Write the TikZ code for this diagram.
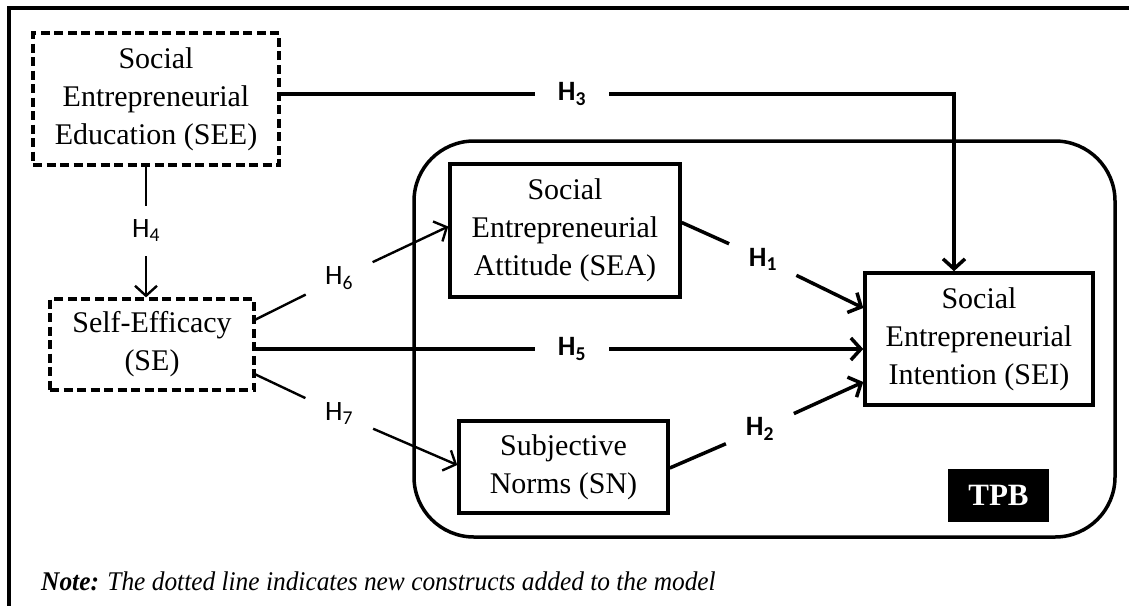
\documentclass[tikz,border=0pt]{standalone}
\usepackage{fontspec}
\setmainfont{Liberation Serif}
\newfontfamily\hypfont{Carlito}
\usepackage{tikz}
\usetikzlibrary{positioning}
\usetikzlibrary{arrows.meta}

\begin{document}
\begin{tikzpicture}[x=1pt,y=-1pt,>={Straight Barb[length=10pt,width=22pt]}]

          \tikzstyle{newNode} = [draw, line width=3.2pt, dash pattern=on 9pt off 4.5pt, align=center, inner sep=0pt, font=\fontsize{30}{38}\selectfont];
          \tikzstyle{tpbNode} = [draw, line width=3.5pt, align=center, inner sep=0pt, font=\fontsize{30}{38}\selectfont];
          \tikzstyle{hypLabel} = [circle, inner sep=0pt, minimum size=74pt, font=\hypfont\fontsize{28}{28}\selectfont];
          \tikzstyle{hypLabelBold} = [hypLabel, font=\hypfont\bfseries\fontsize{28}{28}\selectfont];

          \tikzstyle{thinEdge} = [line width=2.4pt];
          \tikzstyle{boldEdge} = [line width=3.5pt];

          \useasboundingbox (0,0) rectangle (1129,605);
          \clip (0,0) rectangle (1129,605);
          \draw[line width=4.5pt] (9,8) rectangle (1160,640);

          % theory of planned behaviour frame
          \node[draw, line width=3.5pt, rounded corners=60pt, minimum width=701pt, minimum height=396pt] (tpbFrame) at (764.5,339) {};
          \node[fill=black, text=white, inner sep=0pt, minimum width=101pt, minimum height=53pt, font=\bfseries\fontsize{31}{31}\selectfont] (tpb) at (998.5,495.5) {TPB};

          \node[newNode, minimum width=246pt, minimum height=132pt] (see) at (156,99) {Social\\Entrepreneurial\\Education (SEE)};
          \node[newNode, minimum width=204pt, minimum height=91pt] (se) at (152,344.5) {Self-Efficacy\\(SE)};
          \node[tpbNode, minimum width=230pt, minimum height=133pt] (sea) at (565,230.5) {Social\\Entrepreneurial\\Attitude (SEA)};
          \node[tpbNode, minimum width=209pt, minimum height=92pt] (sn) at (563.5,467) {Subjective\\Norms (SN)};
          \node[tpbNode, minimum width=228pt, minimum height=132pt] (sei) at (979,339) {Social\\Entrepreneurial\\Intention (SEI)};

          \node[hypLabelBold] (h1) at (763,259) {H\textsubscript{1}};
          \node[hypLabelBold] (h2) at (760,429) {H\textsubscript{2}};
          \node[hypLabelBold] (h3) at (572,94) {H\textsubscript{3}};
          \node[hypLabel, minimum size=50pt] (h4) at (146,231) {H\textsubscript{4}};
          \node[hypLabelBold] (h5) at (572,349) {H\textsubscript{5}};
          \node[hypLabel] (h6) at (339,278) {H\textsubscript{6}};
          \node[hypLabel] (h7) at (339,414) {H\textsubscript{7}};
          \coordinate (h3Corner) at (954,94);

          \draw[boldEdge] (h3 -| see.east) -- (h3);
          \draw[boldEdge, ->] (h3) -- (h3Corner) -- (h3Corner |- sei.north);
          \draw[thinEdge] (h4 |- see.south) -- (h4);
          \draw[thinEdge, ->] (h4) -- (h4 |- se.north);
          \draw[thinEdge] ([yshift=25pt]se.east) -- (h6);
          \draw[thinEdge, ->] (h6) -- ([yshift=4pt]sea.west);
          \draw[thinEdge] ([yshift=-30pt]se.east) -- (h7);
          \draw[thinEdge, ->] (h7) -- ([yshift=2pt]sn.west);
          \draw[boldEdge] ([yshift=-4.5pt]se.east) -- (h5);
          \draw[boldEdge, ->] (h5) -- (h5 -| sei.west);
          \draw[boldEdge] ([yshift=8pt]sea.east) -- (h1);
          \draw[boldEdge, ->] (h1) -- ([yshift=31pt]sei.west);
          \draw[boldEdge] ([yshift=-1pt]sn.east) -- (h2);
          \draw[boldEdge, ->] (h2) -- ([yshift=-43pt]sei.west);

          \node[anchor=base west, inner sep=0pt, xscale=0.94, transform shape, font=\itshape\fontsize{27}{27}\selectfont] (note) at (41,590) {\textbf{Note:} The dotted line indicates new constructs added to the model};
\end{tikzpicture}
\end{document}
